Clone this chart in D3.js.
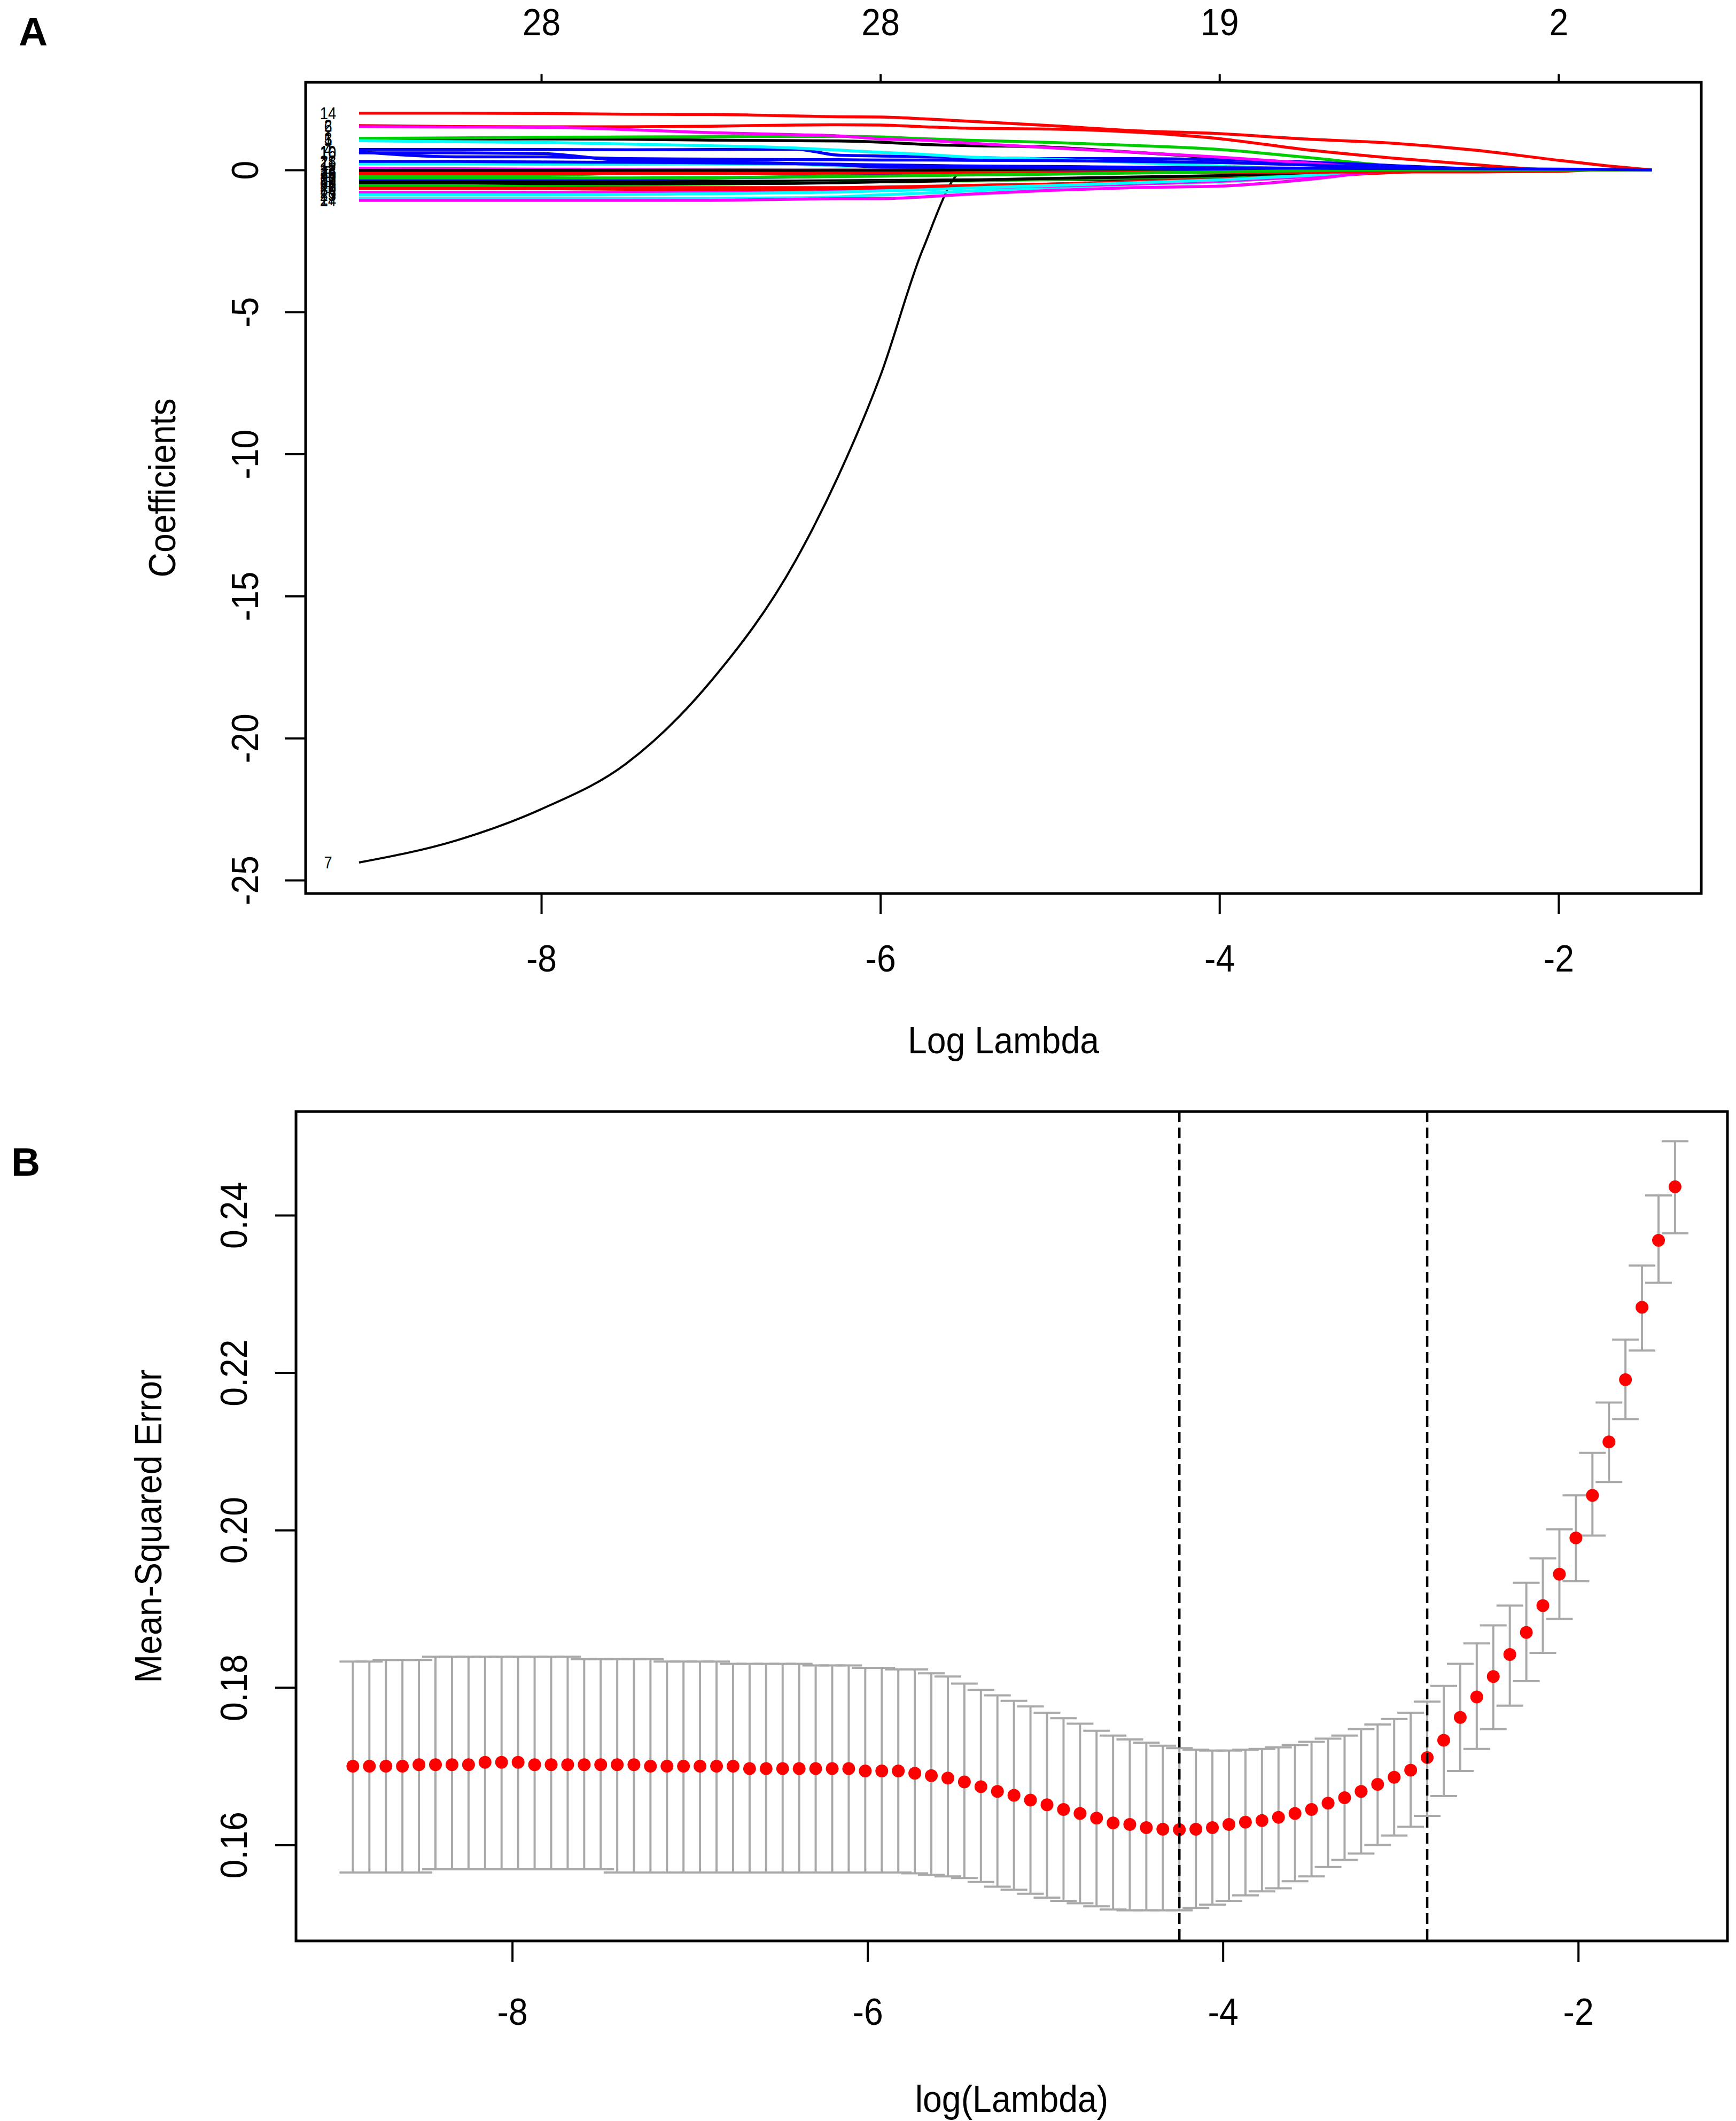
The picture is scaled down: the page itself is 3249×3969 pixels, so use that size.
<!DOCTYPE html>
<html>
<head>
<meta charset="utf-8">
<script src="https://cdn.jsdelivr.net/npm/d3@7"></script>
<style>
  html, body { margin: 0; padding: 0; background: #fff; }
  svg text { font-family: "Liberation Sans", Arial, Helvetica, sans-serif; fill: #000; }
</style>
</head>
<body>
<svg id="chart" width="3249" height="3969"></svg>
<script>
(function(d3){
  "use strict";

/***************** DATA ******************/

// panel A: lasso coefficient paths, read at these log(lambda) knots
var coefKnots = [-9.075, -8.5, -8, -7.5, -7, -6.5, -6.25, -6, -5.75, -5.5, -5, -4.5, -4, -3.5, -3, -2.5, -2, -1.75, -1.45];

// row k is variable k+1
var coefPaths = [
  [1.09, 1.09, 1.09, 1.08, 1.05, 1.03, 1.02, 0.98, 0.90, 0.86, 0.80, 0.62, 0.42, 0.22, 0.02, 0, 0, 0, 0],
  [1.56, 1.53, 1.52, 1.52, 1.54, 1.58, 1.59, 1.58, 1.52, 1.47, 1.44, 1.33, 1.10, 0.72, 0.43, 0.19, 0, 0, 0],
  [1.11, 1.13, 1.15, 1.16, 1.17, 1.18, 1.18, 1.16, 1.10, 1.05, 0.97, 0.86, 0.72, 0.45, 0.15, 0, 0, 0, 0],
  [0.72, 0.72, 0.72, 0.71, 0.72, 0.73, 0.52, 0.49, 0.46, 0.44, 0.40, 0.40, 0.36, 0.28, 0.16, 0.04, 0, 0, 0],
  [1.03, 0.99, 0.97, 0.91, 0.85, 0.77, 0.70, 0.62, 0.55, 0.46, 0.38, 0.26, 0.14, 0.03, 0, 0, 0, 0, 0],
  [1.52, 1.51, 1.50, 1.42, 1.31, 1.24, 1.20, 1.09, 1.05, 0.95, 0.78, 0.62, 0.45, 0.25, 0.05, 0, 0, 0, 0],
  [-24.38, -23.6, -22.5, -20.9, -18.0, -13.75, -10.8, -7.25, -2.8, 0, 0, 0, 0, 0, 0, 0, 0, 0, 0],
  [-0.60, -0.60, -0.60, -0.62, -0.62, -0.62, -0.62, -0.60, -0.58, -0.55, -0.50, -0.44, -0.36, -0.24, -0.10, 0, 0, 0, 0],
  [-0.07, -0.07, -0.07, -0.07, -0.08, -0.08, -0.08, -0.08, -0.08, -0.07, -0.06, -0.05, -0.03, -0.01, 0, 0, 0, 0, 0],
  [0.64, 0.46, 0.46, 0.40, 0.38, 0.36, 0.36, 0.35, 0.35, 0.34, 0.33, 0.30, 0.26, 0.18, 0.08, 0, 0, 0, 0],
  [0.21, 0.21, 0.20, 0.20, 0.21, 0.20, 0.15, 0.12, 0.12, 0.10, 0.08, 0.05, 0.02, 0, 0, 0, 0, 0, 0],
  [0.06, 0.04, 0.03, 0.02, 0.01, 0, 0, 0, 0, 0, 0, 0, 0, 0, 0, 0, 0, 0, 0],
  [-0.02, -0.02, -0.02, -0.02, -0.02, -0.02, -0.02, -0.02, -0.02, -0.01, -0.01, 0, 0, 0, 0, 0, 0, 0, 0],
  [2.00, 2.00, 1.99, 1.96, 1.95, 1.90, 1.87, 1.86, 1.80, 1.72, 1.56, 1.38, 1.28, 1.09, 0.95, 0.70, 0.34, 0.17, 0],
  [-0.19, -0.19, -0.19, -0.12, -0.12, -0.15, -0.15, -0.14, -0.12, -0.10, -0.08, -0.06, -0.04, 0, 0, 0, 0, 0, 0],
  [0.60, 0.60, 0.58, 0.33, 0.30, 0.22, 0.18, 0.10, 0.09, 0.09, 0.08, 0.06, 0.04, 0.02, 0, 0, 0, 0, 0],
  [-1.01, -1.01, -1.01, -1.01, -1.00, -0.98, -0.95, -0.88, -0.82, -0.75, -0.62, -0.50, -0.42, -0.22, 0, 0, 0, 0, 0],
  [-0.79, -0.79, -0.79, -0.79, -0.79, -0.78, -0.75, -0.72, -0.68, -0.63, -0.57, -0.50, -0.40, -0.25, -0.05, 0, 0, 0, 0],
  [-0.40, -0.40, -0.41, -0.41, -0.40, -0.39, -0.38, -0.37, -0.36, -0.35, -0.34, -0.33, -0.25, -0.15, 0, 0, 0, 0, 0],
  [-0.65, -0.65, -0.66, -0.68, -0.68, -0.68, -0.66, -0.63, -0.60, -0.55, -0.50, -0.40, -0.30, -0.18, -0.08, 0, 0, 0, 0],
  [-0.54, -0.54, -0.54, -0.52, -0.50, -0.46, -0.44, -0.42, -0.40, -0.38, -0.34, -0.28, -0.22, -0.12, -0.02, 0, 0, 0, 0],
  [-0.32, -0.32, -0.32, -0.32, -0.28, -0.25, -0.22, -0.20, -0.18, -0.15, -0.10, -0.07, -0.04, 0, 0, 0, 0, 0, 0],
  [-0.88, -0.88, -0.88, -0.86, -0.84, -0.80, -0.78, -0.74, -0.70, -0.64, -0.55, -0.45, -0.35, -0.20, -0.03, 0, 0, 0, 0],
  [-1.07, -1.07, -1.07, -1.07, -1.07, -1.03, -1.01, -1.01, -0.95, -0.86, -0.72, -0.62, -0.57, -0.35, -0.05, 0, 0, 0, 0],
  [-0.45, -0.45, -0.48, -0.48, -0.48, -0.47, -0.45, -0.42, -0.40, -0.36, -0.30, -0.25, -0.20, -0.10, 0, 0, 0, 0, 0],
  [-0.12, -0.12, -0.12, -0.12, -0.12, -0.12, -0.11, -0.11, -0.11, -0.10, -0.10, -0.09, -0.09, -0.08, -0.07, -0.07, -0.05, 0, 0],
  [-0.28, -0.28, -0.28, -0.28, -0.27, -0.25, -0.23, -0.22, -0.20, -0.18, -0.15, -0.11, -0.07, -0.03, 0, 0, 0, 0, 0],
  [0.30, 0.30, 0.28, 0.27, 0.25, 0.22, 0.20, 0.18, 0.16, 0.14, 0.12, 0.10, 0.08, 0.06, 0.05, 0.04, 0.03, 0.02, 0]
];

var coefXTicks = [-8, -6, -4, -2];
var coefYTicks = [0, -5, -10, -15, -20, -25];
var nonzeroLabels = ["28", "28", "19", "2"];   // top axis, at coefXTicks

// panel B: cross-validation curve
var logLambda = [
  -8.897, -8.804, -8.711, -8.618, -8.525, -8.432, -8.339, -8.246, -8.153, -8.060,
  -7.967, -7.874, -7.781, -7.688, -7.595, -7.502, -7.409, -7.315, -7.222, -7.129,
  -7.036, -6.943, -6.850, -6.757, -6.664, -6.571, -6.478, -6.385, -6.292, -6.199,
  -6.106, -6.013, -5.920, -5.827, -5.734, -5.641, -5.548, -5.455, -5.362, -5.269,
  -5.176, -5.083, -4.990, -4.897, -4.804, -4.711, -4.618, -4.524, -4.431, -4.338,
  -4.245, -4.152, -4.059, -3.966, -3.873, -3.780, -3.687, -3.594, -3.501, -3.408,
  -3.315, -3.222, -3.129, -3.036, -2.943, -2.850, -2.757, -2.664, -2.571, -2.478,
  -2.385, -2.292, -2.199, -2.106, -2.013, -1.920, -1.827, -1.734, -1.641, -1.548,
  -1.455
];
var cvMean = [
  0.1700, 0.1700, 0.1700, 0.1700, 0.1702, 0.1702, 0.1702, 0.1702, 0.1705, 0.1705,
  0.1705, 0.1702, 0.1702, 0.1702, 0.1702, 0.1702, 0.1702, 0.1702, 0.1700, 0.1700,
  0.1700, 0.1700, 0.1700, 0.1700, 0.1697, 0.1697, 0.1697, 0.1697, 0.1697, 0.1697,
  0.1697, 0.1694, 0.1694, 0.1694, 0.1691, 0.1688, 0.1685, 0.1680, 0.1674, 0.1668,
  0.1663, 0.1657, 0.1651, 0.1645, 0.1640, 0.1634, 0.1628, 0.1626, 0.1622, 0.1620,
  0.16195, 0.1620, 0.1622, 0.1626, 0.1629, 0.1631, 0.1635, 0.1640, 0.1645, 0.1653,
  0.1660, 0.1668, 0.1677, 0.1686, 0.1695, 0.1711, 0.1733, 0.1762, 0.1788, 0.1814,
  0.1842, 0.1870, 0.1904, 0.1944, 0.1990, 0.2044, 0.2112, 0.2191, 0.2283, 0.2368,
  0.2436
];
var cvUpper = [
  0.1833, 0.1833, 0.1835, 0.1835, 0.1835, 0.1839, 0.1839, 0.1839, 0.1839, 0.1839,
  0.1839, 0.1839, 0.1839, 0.1839, 0.1836, 0.1836, 0.1836, 0.1836, 0.1836, 0.1833,
  0.1833, 0.1833, 0.1833, 0.1830, 0.1830, 0.1830, 0.1830, 0.1830, 0.1828, 0.1828,
  0.1828, 0.1825, 0.1825, 0.1823, 0.1823, 0.1818, 0.1814, 0.1805, 0.1797, 0.1790,
  0.1783, 0.1776, 0.1768, 0.1761, 0.1754, 0.1745, 0.1739, 0.1734, 0.1730, 0.1726,
  0.1723, 0.1721, 0.1720, 0.1720, 0.1721, 0.1722, 0.1724, 0.1727, 0.1731, 0.1735,
  0.1739, 0.1747, 0.1753, 0.1760, 0.1768, 0.1782, 0.1802, 0.1830, 0.1856, 0.1879,
  0.1904, 0.1933, 0.1964, 0.2001, 0.2044, 0.2098, 0.2162, 0.2242, 0.2336, 0.2425,
  0.2494
];
var cvLower = [
  0.1565, 0.1565, 0.1565, 0.1565, 0.1565, 0.1569, 0.1569, 0.1569, 0.1569, 0.1569,
  0.1569, 0.1569, 0.1569, 0.1569, 0.1569, 0.1569, 0.1565, 0.1565, 0.1565, 0.1565,
  0.1565, 0.1565, 0.1565, 0.1565, 0.1565, 0.1565, 0.1565, 0.1565, 0.1565, 0.1565,
  0.1565, 0.1565, 0.1565, 0.1565, 0.1564, 0.1562, 0.1560, 0.1558, 0.1553, 0.1547,
  0.1543, 0.1538, 0.1533, 0.1529, 0.1526, 0.1522, 0.1518, 0.1517, 0.1517, 0.1517,
  0.1517, 0.1520, 0.1524, 0.1529, 0.1536, 0.1541, 0.1545, 0.1554, 0.1560, 0.1572,
  0.1581, 0.1589, 0.1600, 0.1612, 0.1623, 0.1637, 0.1662, 0.1694, 0.1722, 0.1747,
  0.1777, 0.1808, 0.1844, 0.1887, 0.1935, 0.1993, 0.2061, 0.2141, 0.2228, 0.2314,
  0.2377
];
var lambdaMinIdx = 50;   // lambda.min
var lambda1seIdx = 65;   // lambda.1se
var cvXTicks = [-8, -6, -4, -2];
var cvYTicks = [0.16, 0.18, 0.20, 0.22, 0.24];

// old R palette, matplot cycles col = 1:6
var rPalette = ["#000000", "#FF0000", "#00CD00", "#0000FF", "#00FFFF", "#FF00FF"];

/***************** HELPERS ******************/

var svg = d3.select("#chart");
svg.append("rect").attr("width", 3249).attr("height", 3969).attr("fill", "#fff");

// text with a slight horizontal squeeze, like the narrow glyphs in the picture
function addText(parent, x, y, str, o){
  o = o || {};
  var tf = "translate(" + x + "," + y + ")";
  if (o.rotate) tf += " rotate(" + o.rotate + ")";
  tf += " scale(" + (o.sx == null ? 0.92 : o.sx) + ",1)";
  return parent.append("g").attr("transform", tf)
    .append("text")
      .attr("text-anchor", o.anchor || "middle")
      .attr("font-size", o.size || 70)
      .attr("font-weight", o.bold ? "bold" : null)
      .text(str);
}

function styleAxis(g, kind, off){
  g.attr("font-size", 70).attr("font-family", null);
  g.select(".domain").remove();
  g.selectAll(".tick line").attr("stroke", "#000").attr("stroke-width", 4);
  var t = g.selectAll(".tick text").attr("fill", "#000").attr("dy", null);
  if (kind === "bottom") t.attr("y", off).attr("transform", "scale(0.92,1)");
  if (kind === "top") t.attr("y", -off).attr("transform", "scale(0.92,1)");
  if (kind === "left") {
    t.attr("x", null).attr("y", null).attr("text-anchor", "middle")
      .attr("transform", "translate(" + (-off) + ",0) rotate(-90) scale(0.92,1)");
  }
}

/***************** PANEL A: COEFFICIENT PATHS ******************/

var boxA = {left: 572, right: 3184, top: 154, bottom: 1672};
var xA = d3.scaleLinear().domain([-9.390, -1.158]).range([boxA.left, boxA.right]);
var yA = d3.scaleLinear().domain([-25.47, 3.085]).range([boxA.bottom, boxA.top]);

var gA = svg.append("g");

var lineA = d3.line()
  .x(function(d){ return xA(d[0]); })
  .y(function(d){ return yA(d[1]); })
  .curve(d3.curveMonotoneX);

coefPaths.forEach(function(vals, k){
  var pts = vals.map(function(v, j){ return [coefKnots[j], v]; });
  gA.append("path")
    .attr("d", lineA(pts))
    .attr("fill", "none")
    .attr("stroke", rPalette[k % 6])
    .attr("stroke-width", k === 6 ? 4 : 5.5)
    .attr("stroke-linejoin", "round");
});

// variable numbers at the left end of each path
coefPaths.forEach(function(vals, k){
  addText(gA, 614, yA(vals[0]) + 11, String(k + 1), {size: 32, sx: 0.85})
    .attr("fill", "#000");
});

gA.append("rect")
  .attr("x", boxA.left).attr("y", boxA.top)
  .attr("width", boxA.right - boxA.left).attr("height", boxA.bottom - boxA.top)
  .attr("fill", "none").attr("stroke", "#000").attr("stroke-width", 5);

gA.append("g").attr("transform", "translate(0," + boxA.bottom + ")")
  .call(d3.axisBottom(xA).tickValues(coefXTicks).tickSize(38).tickSizeOuter(0)
    .tickFormat(function(d){ return String(d); }))
  .call(styleAxis, "bottom", 146);

gA.append("g").attr("transform", "translate(0," + boxA.top + ")")
  .call(d3.axisTop(xA).tickValues(coefXTicks).tickSize(15).tickSizeOuter(0)
    .tickFormat(function(d, i){ return nonzeroLabels[i]; }))
  .call(styleAxis, "top", 88);

gA.append("g").attr("transform", "translate(" + boxA.left + ",0)")
  .call(d3.axisLeft(yA).tickValues(coefYTicks).tickSize(39).tickSizeOuter(0)
    .tickFormat(function(d){ return String(d); }))
  .call(styleAxis, "left", 89);

addText(gA, 328, (boxA.top + boxA.bottom) / 2, "Coefficients", {rotate: -90});
addText(gA, (boxA.left + boxA.right) / 2, 1971, "Log Lambda");
addText(gA, 35, 85, "A", {anchor: "start", size: 75, bold: true, sx: 1});

/***************** PANEL B: CV ERROR ******************/

var boxB = {left: 554, right: 3233, top: 2080, bottom: 3632};
var xB = d3.scaleLinear().domain([-9.217, -1.160]).range([boxB.left, boxB.right]);
var yB = d3.scaleLinear().domain([0.16, 0.24]).range([3452.4, 2273.9]);

var gB = svg.append("g");
var capHalf = 25;

var bars = gB.append("g").attr("stroke", "#A9A9A9").attr("stroke-width", 4).attr("fill", "none");
logLambda.forEach(function(lx, i){
  var x = xB(lx);
  bars.append("line").attr("x1", x).attr("x2", x)
    .attr("y1", yB(cvUpper[i])).attr("y2", yB(cvLower[i]));
  bars.append("line").attr("x1", x - capHalf).attr("x2", x + capHalf)
    .attr("y1", yB(cvUpper[i])).attr("y2", yB(cvUpper[i]));
  bars.append("line").attr("x1", x - capHalf).attr("x2", x + capHalf)
    .attr("y1", yB(cvLower[i])).attr("y2", yB(cvLower[i]));
});

gB.append("g").selectAll("circle")
  .data(cvMean)
  .enter().append("circle")
    .attr("cx", function(d, i){ return xB(logLambda[i]); })
    .attr("cy", function(d){ return yB(d); })
    .attr("r", 12)
    .attr("fill", "#FF0000");

[lambdaMinIdx, lambda1seIdx].forEach(function(idx){
  var x = xB(logLambda[idx]);
  gB.append("line")
    .attr("x1", x).attr("x2", x)
    .attr("y1", boxB.top).attr("y2", boxB.bottom)
    .attr("stroke", "#000").attr("stroke-width", 4.5)
    .attr("stroke-dasharray", "20,10");
});

gB.append("rect")
  .attr("x", boxB.left).attr("y", boxB.top)
  .attr("width", boxB.right - boxB.left).attr("height", boxB.bottom - boxB.top)
  .attr("fill", "none").attr("stroke", "#000").attr("stroke-width", 5);

gB.append("g").attr("transform", "translate(0," + boxB.bottom + ")")
  .call(d3.axisBottom(xB).tickValues(cvXTicks).tickSize(39).tickSizeOuter(0)
    .tickFormat(function(d){ return String(d); }))
  .call(styleAxis, "bottom", 157);

gB.append("g").attr("transform", "translate(" + boxB.left + ",0)")
  .call(d3.axisLeft(yB).tickValues(cvYTicks).tickSize(39).tickSizeOuter(0)
    .tickFormat(d3.format(".2f")))
  .call(styleAxis, "left", 92);

addText(gB, 302, (boxB.top + boxB.bottom) / 2, "Mean-Squared Error", {rotate: -90});
addText(gB, (boxB.left + boxB.right) / 2, 3952, "log(Lambda)");
addText(gB, 21, 2200, "B", {anchor: "start", size: 75, bold: true, sx: 1});

})(d3);
</script>
</body>
</html>
